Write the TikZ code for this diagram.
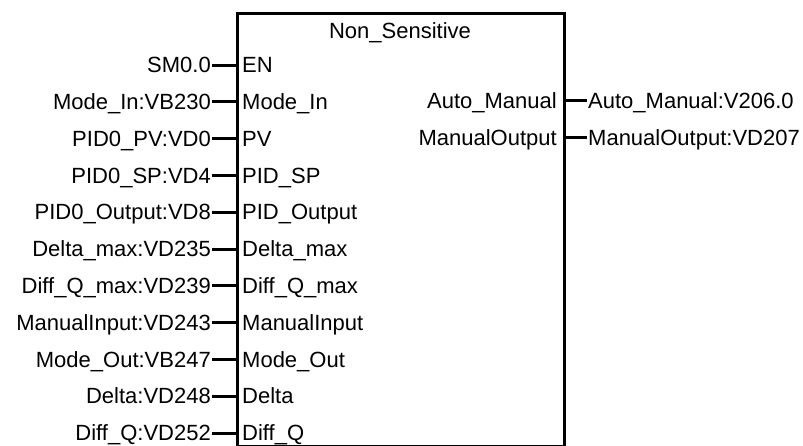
\documentclass[tikz,border=0pt]{standalone}
\usepackage{fontspec}
\setmainfont{Liberation Sans}
\begin{document}
\begin{tikzpicture}[x=1pt,y=-1pt,
  lbl/.style={inner sep=1pt,text height=15.5pt,text depth=0pt,font=\fontsize{22}{26}\selectfont},
  pin/.style={line width=3pt}]
\useasboundingbox (0,0) rectangle (803,445);
\node[draw,line width=3pt,anchor=north west,minimum width=327pt,minimum height=433pt,inner sep=0pt] (blk) at (236,12) {};
\node[lbl] (title) at (400,31) {Non\_Sensitive};
\foreach \i/\ext/\int in {0/SM0.0/EN,
  1/Mode\_In:VB230/Mode\_In,
  2/PID0\_PV:VD0/PV,
  3/PID0\_SP:VD4/PID\_SP,
  4/PID0\_Output:VD8/PID\_Output,
  5/Delta\_max:VD235/Delta\_max,
  6/Diff\_Q\_max:VD239/Diff\_Q\_max,
  7/ManualInput:VD243/ManualInput,
  8/Mode\_Out:VB247/Mode\_Out,
  9/Delta:VD248/Delta,
  10/Diff\_Q:VD252/Diff\_Q}{
  \pgfmathsetmacro{\yy}{65+36.8*\i}
  \coordinate (pinL\i) at (236,\yy);
  \node[lbl,anchor=east] (ext\i) at (212,\yy) {\ext};
  \node[lbl,anchor=west] (in\i) at (241,\yy) {\int};
  \draw[pin] (ext\i.east) -- (pinL\i);
}
\foreach \i/\int/\ext in {1/Auto\_Manual/Auto\_Manual:V206.0,
  2/ManualOutput/ManualOutput:VD207}{
  \pgfmathsetmacro{\yy}{64+36.8*\i}
  \coordinate (pinR\i) at (563,\yy);
  \node[lbl,anchor=east] (out\i) at (558,\yy) {\int};
  \node[lbl,anchor=west] (oext\i) at (587,\yy) {\ext};
  \draw[pin] (pinR\i) -- (oext\i.west);
}
\end{tikzpicture}
\end{document}
